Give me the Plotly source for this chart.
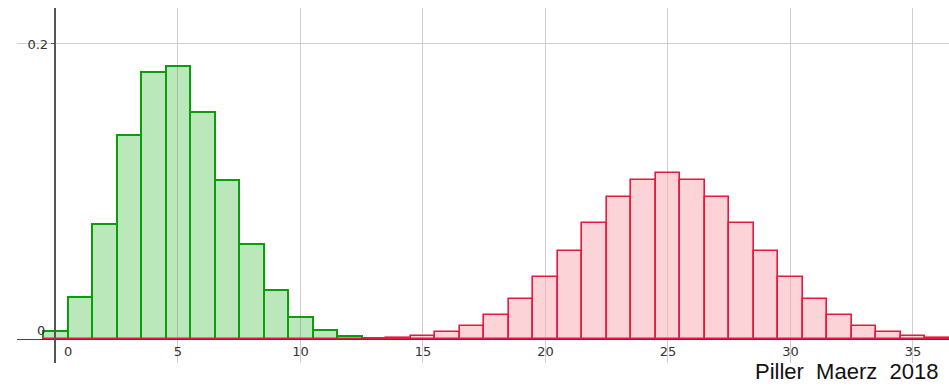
import plotly.graph_objects as go

# Probability histograms of two discrete distributions (k = number of successes)
k_green = list(range(0, 16))
p_green = [0.0052, 0.0286, 0.0779, 0.1386, 0.1809, 0.1849, 0.1541, 0.1076,
           0.0643, 0.0333, 0.0152, 0.0061, 0.0022, 0.0007, 0.0, 0.0]

k_red = list(range(0, 51))
p_red = ([0.0] * 13 +
         [0.0003, 0.0008, 0.0020, 0.0044, 0.0087, 0.0160, 0.0270, 0.0419,
          0.0598, 0.0788, 0.0960, 0.1080, 0.1123, 0.1080, 0.0960, 0.0788,
          0.0598, 0.0419, 0.0270, 0.0160, 0.0087, 0.0044, 0.0020, 0.0008,
          0.0003] +
         [0.0] * 13)

x_ticks = [5, 10, 15, 20, 25, 30, 35]
y_ticks = [0.2]
credit = "Piller\u00a0\u00a0Maerz\u00a0\u00a02018"

X_RANGE = [-1.57, 36.47]
Y_RANGE = [-0.0163, 0.2244]

fig = go.Figure()
fig.add_trace(go.Bar(
    x=k_green, y=p_green, width=1.0,
    marker=dict(color="rgba(0,170,0,0.27)", line=dict(color="#0a9e0a", width=2)),
    showlegend=False, hoverinfo="x+y",
))
fig.add_trace(go.Bar(
    x=k_red, y=p_red, width=1.0,
    marker=dict(color="rgba(250,170,178,0.5)", line=dict(color="#e8183c", width=1.6)),
    showlegend=False, hoverinfo="x+y",
))

tick_font = dict(family="DejaVu Sans", size=13, color="#333333")

fig.update_layout(
    width=949, height=387,
    margin=dict(l=17, r=0, t=8, b=24),
    paper_bgcolor="white", plot_bgcolor="white",
    barmode="overlay", bargap=0,
    xaxis=dict(
        range=X_RANGE, anchor="free",
        position=(0 - Y_RANGE[0]) / (Y_RANGE[1] - Y_RANGE[0]),
        tickmode="array", tickvals=x_ticks, ticktext=[str(v) for v in x_ticks],
        showgrid=True, gridcolor="#cfcfcf", gridwidth=1,
        showline=True, linecolor="#444444", linewidth=1.2,
        zeroline=False, ticks="", tickfont=tick_font,
    ),
    yaxis=dict(
        range=Y_RANGE, anchor="free",
        position=(0 - X_RANGE[0]) / (X_RANGE[1] - X_RANGE[0]),
        tickmode="array", tickvals=y_ticks, ticktext=["0.2"],
        showgrid=True, gridcolor="#cfcfcf", gridwidth=1,
        showline=True, linecolor="#555555", linewidth=1.5,
        zeroline=False, ticks="outside", ticklen=4, tickcolor="#555555",
        tickfont=tick_font,
    ),
    annotations=[
        dict(x=0, y=0, xref="x", yref="y", text="0", showarrow=False,
             xanchor="left", yanchor="top", xshift=7, yshift=-3, font=tick_font),
        dict(x=0, y=0, xref="x", yref="y", text="0", showarrow=False,
             xanchor="right", yanchor="bottom", xshift=-8, yshift=-1, font=tick_font),
        dict(x=1.0, y=-0.024, xref="paper", yref="paper", text=credit,
             showarrow=False, xanchor="right", yanchor="middle", xshift=-9,
             font=dict(family="Liberation Sans", size=22, color="#111111")),
    ],
)

fig.write_html("out.html")
